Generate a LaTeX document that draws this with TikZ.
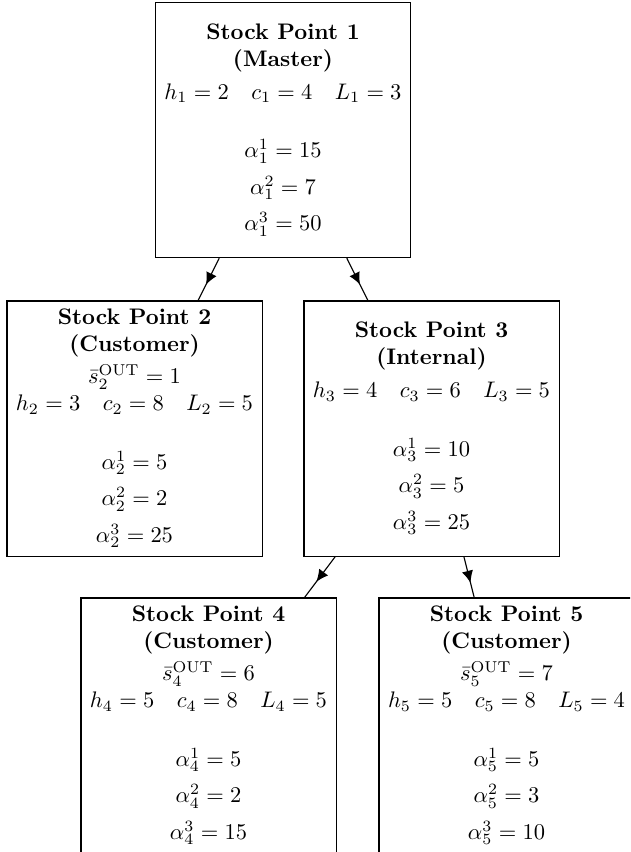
\documentclass[tikz,border=0pt]{standalone}
\usetikzlibrary{arrows.meta,decorations.markings}
\begin{document}
\begin{tikzpicture}[x=0.4445pt,y=-0.4445pt,
  spbox/.style={draw, line width=0.5pt, minimum width=113.4pt, minimum height=113.4pt, inner sep=0pt, align=center},
  midarrow/.style={line width=0.5pt, postaction={decorate}, decoration={markings, mark=at position 0.5 with {\arrow[xshift=2.7pt]{Latex[length=5.4pt,width=5pt]}}}}]
\clip (0,0) rectangle (630,852);
\node[spbox] (sp1) at (283,130) {\textbf{Stock Point 1}\\ \textbf{(Master)}\\[2.7pt]
  $h_1 = 2\quad c_1 = 4\quad L_1 = 3$\\[14pt]
  $\alpha_1^1 = 15$\\[4.2pt] $\alpha_1^2 = 7$\\[4.2pt] $\alpha_1^3 = 50$};
\node[spbox] (sp2) at (134.5,428.5) {\textbf{Stock Point 2}\\ \textbf{(Customer)}\\[2.2pt]
  $\bar{s}_2^{\mathrm{OUT}} = 1$\\
  $h_2 = 3\quad c_2 = 8\quad L_2 = 5$\\[14pt]
  $\alpha_2^1 = 5$\\[4.2pt] $\alpha_2^2 = 2$\\[4.2pt] $\alpha_2^3 = 25$};
\node[spbox] (sp3) at (431.5,428.5) {\textbf{Stock Point 3}\\ \textbf{(Internal)}\\[2.7pt]
  $h_3 = 4\quad c_3 = 6\quad L_3 = 5$\\[14pt]
  $\alpha_3^1 = 10$\\[4.2pt] $\alpha_3^2 = 5$\\[4.2pt] $\alpha_3^3 = 25$};
\node[spbox] (sp4) at (208.5,725.5) {\textbf{Stock Point 4}\\ \textbf{(Customer)}\\[2.2pt]
  $\bar{s}_4^{\mathrm{OUT}} = 6$\\
  $h_4 = 5\quad c_4 = 8\quad L_4 = 5$\\[14pt]
  $\alpha_4^1 = 5$\\[4.2pt] $\alpha_4^2 = 2$\\[4.2pt] $\alpha_4^3 = 15$};
\node[spbox] (sp5) at (506.5,725.5) {\textbf{Stock Point 5}\\ \textbf{(Customer)}\\[2.2pt]
  $\bar{s}_5^{\mathrm{OUT}} = 7$\\
  $h_5 = 5\quad c_5 = 8\quad L_5 = 4$\\[14pt]
  $\alpha_5^1 = 5$\\[4.2pt] $\alpha_5^2 = 3$\\[4.2pt] $\alpha_5^3 = 10$};
\draw[midarrow] (sp1) -- (sp2);
\draw[midarrow] (sp1) -- (sp3);
\draw[midarrow] (sp3) -- (sp4);
\draw[midarrow] (sp3) -- (sp5);
\end{tikzpicture}
\end{document}
